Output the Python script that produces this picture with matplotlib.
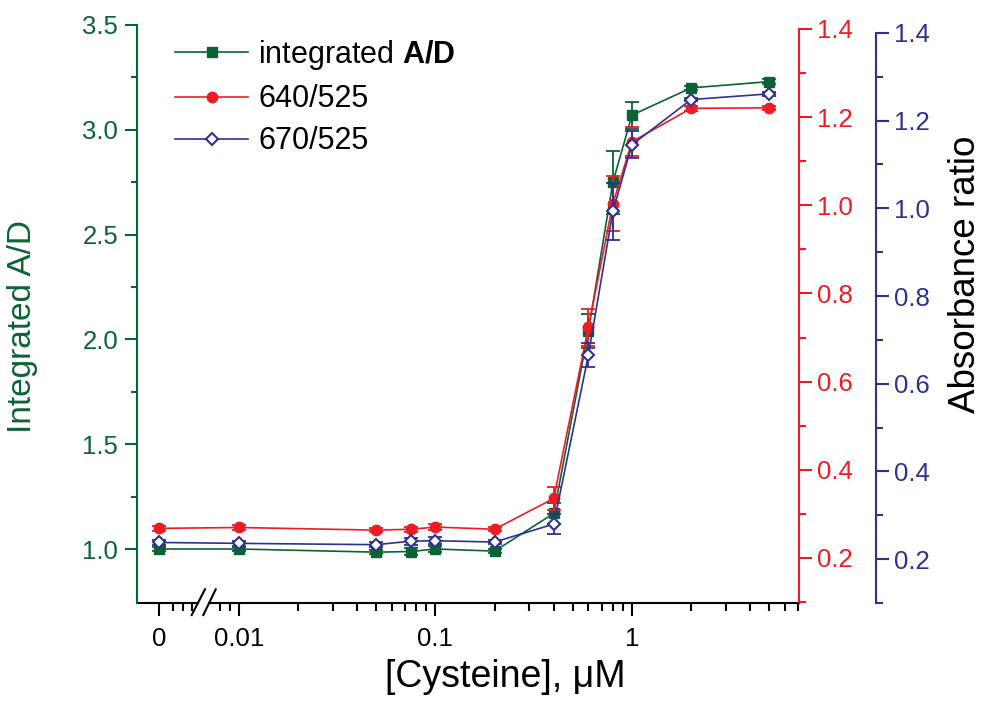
import matplotlib
matplotlib.use("Agg")
import matplotlib.pyplot as plt

plt.rcParams['font.family'] = ['Liberation Sans', 'DejaVu Sans']
plt.rcParams['mathtext.fontset'] = 'custom'
plt.rcParams['mathtext.rm'] = 'Liberation Sans'
plt.rcParams['mathtext.bf'] = 'Liberation Sans:bold'

# cysteine concentration (uM); 0 is drawn left of the axis break
conc = [0, 0.01, 0.05, 0.075, 0.1, 0.2, 0.4, 0.6, 0.8, 1, 2, 5]
integrated = [1.00, 1.00, 0.985, 0.988, 1.00, 0.99, 1.17, 2.04, 2.75, 3.07, 3.20, 3.23]
integrated_err = [0.01, 0.01, 0.01, 0.015, 0.015, 0.01, 0.05, 0.08, 0.15, 0.065, 0.01, 0.01]
r640 = [0.267, 0.269, 0.263, 0.265, 0.270, 0.265, 0.335, 0.723, 1.004, 1.144, 1.220, 1.221]
r640_err = [0.005, 0.006, 0.005, 0.006, 0.006, 0.005, 0.027, 0.042, 0.063, 0.033, 0.005, 0.004]
r670 = [0.238, 0.236, 0.233, 0.241, 0.242, 0.239, 0.280, 0.665, 0.993, 1.145, 1.248, 1.261]
r670_err = [0.006, 0.005, 0.005, 0.008, 0.008, 0.004, 0.022, 0.027, 0.065, 0.031, 0.004, 0.005]

x_ticks = [0, 0.01, 0.1, 1]
x_ticklabels = ['0', '0.01', '0.1', '1']

ZERO_POS = 0.003917  # where "0" sits on the log axis
zero_minor = [0.004614, 0.005188, 0.005765, 0.008, 0.009]

green = '#0b6333'
red = '#ed1c24'
blue = '#2e3192'

xs = [ZERO_POS if c == 0 else c for c in conc]

fig = plt.figure(figsize=(9.82, 7.13), dpi=100)
ax = fig.add_axes([137/982, 1-603/713, 662/982, 578/713])
ax_r = ax.twinx()
ax_b = ax.twinx()

lw = 1.2
ax.errorbar(xs, integrated, yerr=integrated_err, fmt='none', ecolor=green, elinewidth=1.3, capsize=5, capthick=1.3)
l1, = ax.plot(xs, integrated, '-s', color=green, lw=lw, ms=7, mec=green, mfc=green, label='integrated $\\mathbf{A/D}$')
ax_r.errorbar(xs, r640, yerr=r640_err, fmt='none', ecolor=red, elinewidth=1.3, capsize=5, capthick=1.3)
l2, = ax_r.plot(xs, r640, '-o', color=red, lw=lw, ms=7.5, mec=red, mfc=red, label='640/525')
ax_b.errorbar(xs, r670, yerr=r670_err, fmt='none', ecolor=blue, elinewidth=1.3, capsize=5, capthick=1.3)
l3, = ax_b.plot(xs, r670, '-D', color=blue, lw=lw, ms=6.5, mec=blue, mfc='white', mew=1.5, label='670/525')

# x axis (log, with a break after zero)
ax.set_xscale('log')
ax.set_xlim(0.00303, 7.08)
ax.set_xticks([ZERO_POS if t == 0 else t for t in x_ticks])
ax.set_xticklabels(x_ticklabels)
minors = zero_minor + [m * d for d in (0.01, 0.1, 1) for m in range(2, 10) if m * d < 7.08]
ax.set_xticks(minors, minor=True)
ax.tick_params(axis='x', which='major', direction='out', length=9, width=1.5, pad=8, labelsize=18.5, colors='black')
ax.tick_params(axis='x', which='minor', direction='out', length=5.5, width=1.5)
ax.set_xlabel('[Cysteine], \u03bcM', fontsize=27)
ax.xaxis.set_label_coords(0.556, -0.097)

# left axis
ax.set_ylim(0.7424, 3.5)
ax.set_yticks([1.0, 1.5, 2.0, 2.5, 3.0, 3.5])
ax.set_yticks([1.25, 1.75, 2.25, 2.75, 3.25], minor=True)
ax.yaxis.set_major_formatter(matplotlib.ticker.FormatStrFormatter('%.1f'))
ax.tick_params(axis='y', which='major', direction='out', length=8.5, width=1.5, pad=5, labelsize=18.5, colors=green)
ax.tick_params(axis='y', which='minor', direction='out', length=4.5, width=1.5, colors=green)
ax.set_ylabel('Integrated A/D', fontsize=24, color=green)
ax.yaxis.set_label_coords(-0.15, 0.478)
ax.spines['left'].set_color(green)
ax.spines['left'].set_linewidth(1.5)
for s in ('top', 'right', 'bottom'):
    ax.spines[s].set_visible(False)

# bottom axis line with break marks
for x0, x1 in ((0, 0.0929), (0.1095, 1.0)):
    ax.plot([x0, x1], [0, 0], transform=ax.transAxes, color='black', lw=1.5, clip_on=False)
for x0, x1 in ((0.0826, 0.1027), (0.1002, 0.1189)):
    ax.plot([x0, x1], [-0.0208, 0.0237], transform=ax.transAxes, color='black', lw=1.5, clip_on=False)

# right axes
rticks = [0.2, 0.4, 0.6, 0.8, 1.0, 1.2, 1.4]
rminor = [0.1, 0.3, 0.5, 0.7, 0.9, 1.1, 1.3]
for a, col, lim in ((ax_r, red, (0.0977, 1.409)), (ax_b, blue, (0.1068, 1.418))):
    a.set_ylim(*lim)
    a.set_yticks(rticks)
    a.set_yticks(rminor, minor=True)
    a.yaxis.set_major_formatter(matplotlib.ticker.FormatStrFormatter('%.1f'))
    a.tick_params(axis='y', which='major', direction='out', length=9, width=1.5, pad=4, labelsize=18.5, colors=col)
    a.tick_params(axis='y', which='minor', direction='out', length=5, width=1.5, colors=col)
    a.spines['right'].set_color(col)
    a.spines['right'].set_linewidth(1.5)
    a.spines['right'].set_bounds(0.1, 1.4)
    for s in ('top', 'left', 'bottom'):
        a.spines[s].set_visible(False)
    a.tick_params(axis='x', which='both', bottom=False, top=False, labelbottom=False)
ax_b.spines['right'].set_position(('axes', (876 - 137) / 662))
ax_b.set_ylabel('Absorbance ratio', fontsize=26.5, color='black')
ax_b.yaxis.set_label_coords(1.225, 0.569)

ax_b.legend(handles=[l1, l2, l3], loc='upper left', bbox_to_anchor=(175/982, 1 - 38/713),
            bbox_transform=fig.transFigure, frameon=False, fontsize=22, handlelength=2.4,
            handletextpad=0.33, labelspacing=0.4, borderpad=0, borderaxespad=0)

fig.savefig('out.png', dpi=100)
